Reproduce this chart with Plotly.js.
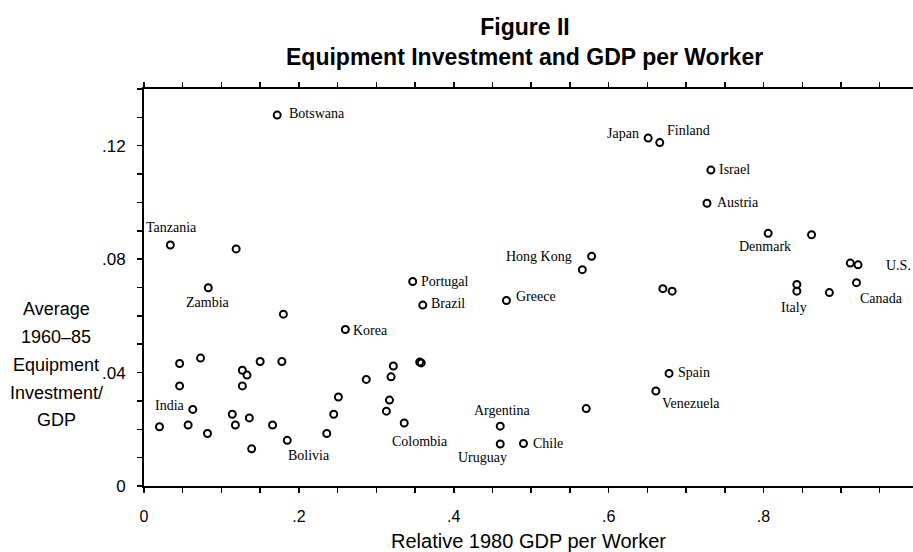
<!DOCTYPE html>
<html>
<head>
<meta charset="utf-8">
<script src="https://cdn.plot.ly/plotly-3.0.1.min.js"></script>
<style>html,body{margin:0;padding:0;background:#fff;}#chart{width:913px;height:552px;}</style>
</head>
<body>
<div id="chart"></div>
<script>
// Country labels ("" = unlabeled point)
const countries = [
  "Botswana","Tanzania","","Zambia","","Korea","Portugal","Brazil",
  "","","","India","","","","","","","","","","","","","","Bolivia",
  "","","","","","","","","Colombia","","",
  "Hong Kong","","Greece","","","","Italy","","Canada","Spain","Venezuela",
  "Argentina","Uruguay","Chile","","Japan","Finland","Israel","Austria",
  "Denmark","","","U.S."
];
// Relative 1980 GDP per worker
const gdpPerWorker = [
  0.172,0.034,0.119,0.083,0.180,0.260,0.347,0.360,
  0.046,0.073,0.046,0.020,0.063,0.057,0.082,0.127,0.133,0.127,0.150,0.178,0.114,0.118,0.136,0.139,0.166,0.185,
  0.236,0.245,0.251,0.287,0.322,0.319,0.317,0.313,0.336,0.356,0.358,
  0.578,0.566,0.468,0.670,0.682,0.843,0.843,0.885,0.920,0.678,0.661,
  0.460,0.460,0.490,0.571,0.651,0.666,0.732,0.727,
  0.806,0.862,0.912,0.922
];
// Average 1960-85 equipment investment / GDP
const equipInvest = [
  0.1308,0.0850,0.0836,0.0699,0.0606,0.0552,0.0721,0.0638,
  0.0432,0.0451,0.0353,0.0209,0.0270,0.0215,0.0185,0.0408,0.0391,0.0353,0.0439,0.0439,0.0253,0.0215,0.0240,0.0131,0.0215,0.0161,
  0.0185,0.0253,0.0314,0.0376,0.0423,0.0385,0.0303,0.0264,0.0222,0.0437,0.0434,
  0.0810,0.0763,0.0654,0.0696,0.0687,0.0711,0.0687,0.0682,0.0717,0.0397,0.0335,
  0.0211,0.0148,0.0150,0.0273,0.1227,0.1211,0.1114,0.0997,
  0.0891,0.0886,0.0786,0.0780
];
const xTickVals = [0,0.05,0.1,0.15,0.2,0.25,0.3,0.35,0.4,0.45,0.5,0.55,0.6,0.65,0.7,0.75,0.8,0.85,0.9,0.95];
const xTickText = ["0","","","",".2","","","",".4","","","",".6","","","",".8","","",""];
const yTickVals = [0,0.01,0.02,0.03,0.04,0.05,0.06,0.07,0.08,0.09,0.1,0.11,0.12,0.13,0.14];
const yTickText = ["0","","","",".04","","","",".08","","","",".12","",""];
const titleLine1 = "Figure II";
const titleLine2 = "Equipment Investment and GDP per Worker";
const xTitle = "Relative 1980 GDP per Worker";
const yTitleLines = ["Average","1960\u201385","Equipment","Investment/","GDP"];

// label placement (anchor, x pixel shift, y pixel shift)
const labelPlacement = {
  "Botswana":["left",10,2], "Tanzania":["left",-26,17], "Zambia":["center",0,-15],
  "India":["center",11,21], "Bolivia":["center",22,-15], "Korea":["left",6,-1],
  "Portugal":["left",6,0], "Brazil":["left",6,2], "Colombia":["center",16,-18],
  "Hong Kong":["right",-18,0], "Greece":["left",8,4], "Japan":["right",-7,5],
  "Finland":["left",5,12], "Israel":["left",6,1], "Austria":["left",8,1],
  "Denmark":["center",-3,-13], "U.S.":["left",26,-1], "Italy":["center",-3,-16],
  "Canada":["left",2,-16], "Spain":["left",7,1], "Venezuela":["left",4,-12],
  "Argentina":["center",2,16], "Uruguay":["center",-18,-13], "Chile":["left",8,0]
};

const sansFont = "Liberation Sans, Arial, Helvetica, sans-serif";
const serifFont = "Liberation Serif, Times New Roman, serif";

const annotations = [];
countries.forEach((name, i) => {
  if (!name) return;
  const p = labelPlacement[name] || ["left",6,0];
  annotations.push({
    x: gdpPerWorker[i], y: equipInvest[i], xref: "x", yref: "y",
    text: name, showarrow: false, xanchor: p[0], yanchor: "middle",
    xshift: p[1], yshift: p[2],
    font: {family: serifFont, size: 14, color: "#000"}
  });
});
annotations.push({
  xref: "paper", yref: "paper", x: 0.4954, y: 1.0806, xanchor: "center", yanchor: "middle",
  text: titleLine2, showarrow: false,
  font: {family: sansFont, size: 23, color: "#000", weight: "bold"}
});
const yTitlePos = [0.4458, 0.3753, 0.3048, 0.2343, 0.1662];
yTitleLines.forEach((t, k) => {
  annotations.push({
    xref: "paper", yref: "paper", x: -0.1144, y: yTitlePos[k], xanchor: "center", yanchor: "middle",
    text: t, showarrow: false, font: {family: sansFont, size: 18, color: "#000"}
  });
});

const trace = {
  type: "scatter", mode: "markers",
  x: gdpPerWorker, y: equipInvest, text: countries,
  marker: {symbol: "circle-open", size: 7, color: "#000", line: {width: 2, color: "#000"}},
  hoverinfo: "text+x+y", cliponaxis: false
};

const layout = {
  width: 913, height: 552,
  paper_bgcolor: "#fff", plot_bgcolor: "#fff",
  margin: {l: 144, r: 0, t: 89, b: 66},
  showlegend: false,
  title: {
    text: titleLine1, x: 0.575, xref: "container", y: 0.951, yref: "container",
    xanchor: "center", yanchor: "middle",
    font: {family: sansFont, size: 23, color: "#000", weight: "bold"}
  },
  xaxis: {
    range: [0, 0.993], showgrid: false, zeroline: false,
    showline: true, linecolor: "#000", linewidth: 2, mirror: "ticks",
    ticks: "outside", ticklen: 5, tickwidth: 1.5, tickcolor: "#000",
    tickmode: "array", tickvals: xTickVals, ticktext: xTickText,
    ticklabelstandoff: 10,
    tickfont: {family: sansFont, size: 16, color: "#000"},
    title: {text: xTitle, standoff: 16, font: {family: sansFont, size: 20, color: "#000"}}
  },
  yaxis: {
    range: [0, 0.14], showgrid: false, zeroline: false,
    showline: true, linecolor: "#000", linewidth: 2,
    ticks: "outside", ticklen: 5, tickwidth: 1.5, tickcolor: "#000",
    tickmode: "array", tickvals: yTickVals, ticktext: yTickText,
    ticklabelstandoff: 8,
    tickfont: {family: sansFont, size: 17, color: "#000"}
  },
  annotations: annotations
};

Plotly.newPlot("chart", [trace], layout, {displayModeBar: false, staticPlot: true});
</script>
</body>
</html>
